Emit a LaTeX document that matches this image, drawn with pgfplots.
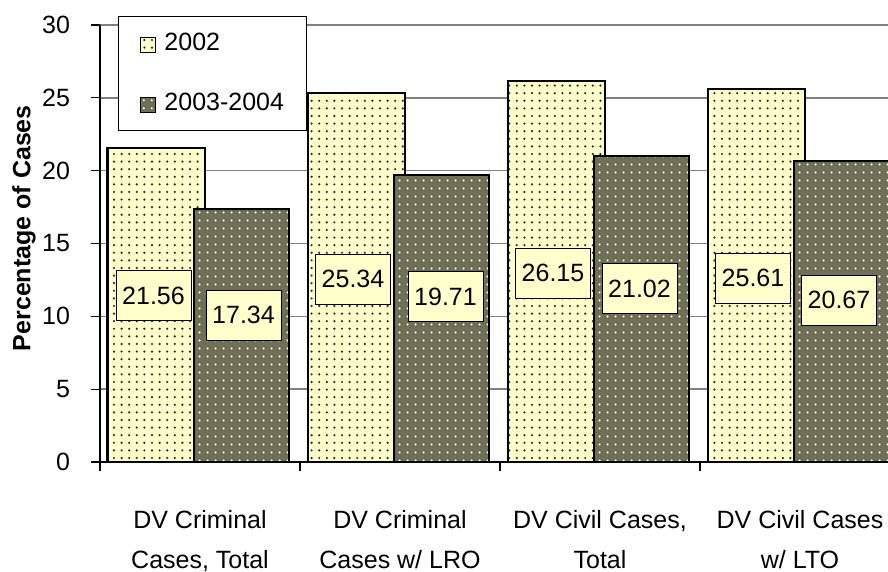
\documentclass[border=0pt]{standalone}
\usepackage{pgfplots}
\pgfplotsset{compat=1.18}
\usepackage{fontspec}
\setmainfont{Liberation Sans}
\usetikzlibrary{patterns.meta}
\definecolor{lightyel}{HTML}{FFFFCC}
\definecolor{darkol}{HTML}{6F6F57}
\definecolor{gridgray}{HTML}{808080}
\begin{document}
\begin{tikzpicture}[
  lbl/.style={draw=black, fill=lightyel, line width=0.5pt, minimum width=37.5pt, minimum height=25pt, inner sep=0pt, font=\fontsize{12.5}{15}\selectfont}]
\begin{axis}[
  name=ax,
  scale only axis, width=394pt, height=218.5pt,
  xmin=-0.5, xmax=3.44, ymin=0, ymax=30,
  axis x line=bottom, axis y line=left,
  axis line style={-, black, line width=0.6pt},
  ytick={0,5,...,30},
  xtick={0,1,2,3},
  xticklabels={{DV Criminal\\Cases, Total},{DV Criminal\\Cases w/ LRO},{DV Civil Cases,\\Total},{DV Civil Cases\\w/ LTO}},
  xticklabel style={align=center, font=\fontsize{12.5}{20}\selectfont, yshift=-16pt},
  major x tick style={draw=none},
  minor xtick={-0.5,0.5,1.5,2.5},
  minor tick length=4.5pt,
  major tick length=4.5pt,
  tick align=outside,
  tick style={black, line width=0.6pt},
  ymajorgrids, grid style={gridgray, line width=0.7pt},
  yticklabel style={font=\fontsize{12.5}{15}\selectfont, xshift=-7pt},
  /pgf/number format/assume math mode=true,
  ylabel={\bfseries Percentage of Cases},
  ylabel style={at={(axis description cs:-0.0964,0.535)}, anchor=center, font=\fontsize{12.5}{15}\selectfont},
  legend cell align=left,
  legend image code/.code={\draw[#1, line width=0.5pt] (0pt,-4.5pt) rectangle (7.5pt,3pt);},
  legend style={at={(axis description cs:0.0228,1.0206)}, anchor=north west, draw=black, fill=white,
     line width=0.5pt, font=\fontsize{12.5}{15}\selectfont, inner xsep=11pt, inner ysep=8.5pt, row sep=19.5pt,
     column sep=4pt, nodes={inner sep=0pt}},
]
\addplot[ybar, bar width=48.5pt, bar shift=-22pt, fill=lightyel, draw=black, line width=1pt,
  postaction={pattern={Dots[distance=3.8pt, radius=0.6pt]}, pattern color=black!85}]
  coordinates {(0,21.56) (1,25.34) (2,26.15) (3,25.61)};
\addlegendentry{2002}
\addplot[ybar, bar width=47.5pt, bar shift=20.75pt, fill=darkol, draw=black, line width=1pt,
  postaction={pattern={Dots[distance=4pt, radius=0.65pt]}, pattern color=lightyel}]
  coordinates {(0,17.34) (1,19.71) (2,21.02) (3,20.67)};
\addlegendentry{2003-2004}
\node[lbl] at (axis cs:-0.2325,11.43) {21.56};
\node[lbl] at (axis cs:0.2175,10.09) {17.34};
\node[lbl] at (axis cs:0.765,12.56) {25.34};
\node[lbl] at (axis cs:1.2275,11.33) {19.71};
\node[lbl] at (axis cs:1.765,12.97) {26.15};
\node[lbl] at (axis cs:2.1975,11.88) {21.02};
\node[lbl] at (axis cs:2.765,12.63) {25.61};
\node[lbl] at (axis cs:3.195,11.12) {20.67};
\end{axis}
\pgfresetboundingbox
\path (ax.south west) ++(-50pt,-55pt) rectangle ++(444pt,286pt);
\end{tikzpicture}
\end{document}
